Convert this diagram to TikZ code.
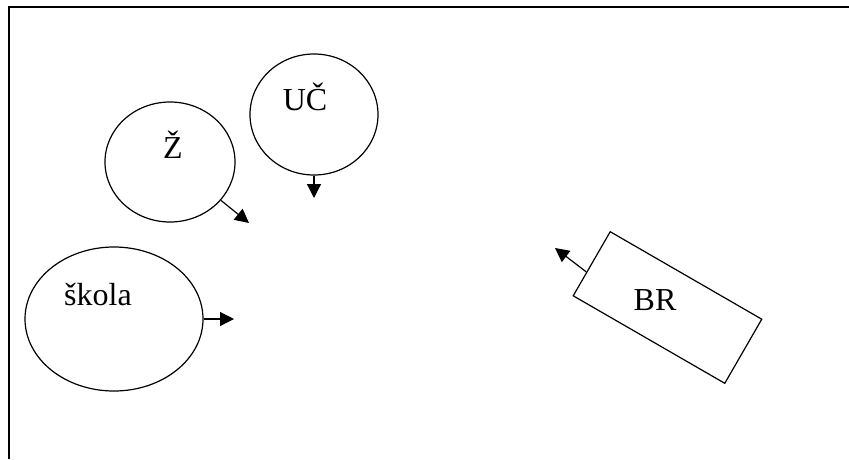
\documentclass[tikz,border=0pt]{standalone}
\usepackage{fontspec}
\setmainfont{Liberation Serif}
\usetikzlibrary{shapes.geometric,arrows.meta,calc}
\begin{document}
\begin{tikzpicture}[x=1pt,y=-1pt,
  blob/.style={draw,ellipse,line width=1.2pt,inner sep=0pt},
  tag/.style={anchor=base,inner sep=0pt,font=\fontsize{32}{36}\selectfont},
  flow/.style={line width=1.2pt,-{Triangle[length=14pt,width=14pt]}}]
\useasboundingbox (0,0) rectangle (849,459);
% frame
\draw[line width=2pt] (9,459) -- (9,7) -- (849,7);
% shapes
\node[blob,minimum width=130pt,minimum height=120pt] (z) at (170,162) {};
\node[blob,minimum width=128pt,minimum height=121pt] (uc) at (314,114.5) {};
\node[blob,minimum width=178pt,minimum height=144pt] (sk) at (114,319) {};
\node[draw,line width=1.2pt,rectangle,minimum width=175pt,minimum height=74pt,
      inner sep=0pt,rotate=-30] (br) at (667.5,307.5) {};
% labels
\node[tag] (zt) at (173,158) {Ž};
\node[tag] (uct) at (305,110) {UČ};
\node[tag] (skt) at (98,305) {škola};
\node[tag] (brt) at (655,310) {BR};
% arrow ends
\coordinate (zend) at (249,223);
\coordinate (ucend) at (314,198);
\coordinate (skend) at (234,319);
\coordinate (brend) at (555,248);
\coordinate (brstart) at ($(br.north west)!0.63!(br.south west)$);
% arrows
\draw[flow] (z.-37) -- (zend);
\draw[flow] (uc.south) -- (ucend);
\draw[flow] (sk.east) -- (skend);
\draw[flow] (brstart) -- (brend);
\end{tikzpicture}
\end{document}
